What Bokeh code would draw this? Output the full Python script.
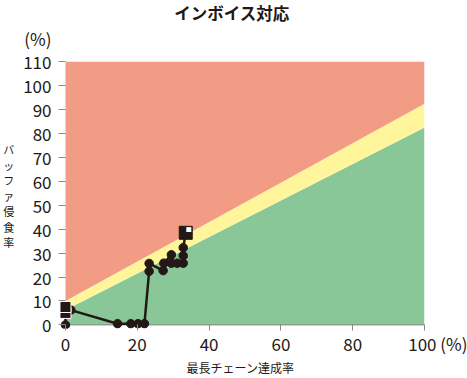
from bokeh.plotting import figure
from bokeh.models import Range1d, FixedTicker
from bokeh.embed import file_html
from bokeh.resources import INLINE
from bokeh.core.properties import value

# ---- data ----
title_text = "インボイス対応"
x_title = "最長チェーン達成率"
y_title = "バッファ侵食率"
unit_text = "(%)"

x_ticks = [0, 20, 40, 60, 80, 100]
y_ticks = [0, 10, 20, 30, 40, 50, 60, 70, 80, 90, 100, 110]

zone_x = [0, 100]
green_top = [6.2, 82.5]
yellow_top = [10.0, 92.4]
zone_max = [110, 110]
zone_min = [0, 0]

path_x = [0, 0, 0, 1.5, 14.5, 18.2, 20.2, 22.0, 23.3, 23.3, 27.2, 27.4, 29.5, 29.5, 31.1, 32.8, 32.8, 32.8, 33.5]
path_y = [0, 5.0, 7.5, 6.2, 0.5, 0.5, 0.5, 0.5, 22.4, 25.7, 22.7, 25.8, 29.3, 25.8, 25.8, 25.8, 28.9, 32.3, 38.5]
kinds = ["c", "s", "s", "c", "c", "c", "c", "c", "c", "c", "c", "c", "c", "c", "c", "c", "c", "c", "e"]

FONT = "Noto Sans CJK JP"
RED = "#f29c86"
YELLOW = "#fff59b"
GREEN = "#89c799"
INK = "#231815"
GREY = "#8a8a8a"

# layout: zone top (110) at 62px, zone bottom (0) at 328px from the top of the canvas
Y_MAX = y_ticks[-1]
px_per_unit = (328.3 - 62) / Y_MAX
y_top = Y_MAX + 62 / px_per_unit
y_pad = 1.5

p = figure(width=467, height=378, output_backend="svg", toolbar_location=None, title=None,
           x_range=Range1d(-2.5, 100), y_range=Range1d(-y_pad, y_top),
           min_border_left=55, min_border_right=43, min_border_top=0,
           min_border_bottom=round(378 - (328.3 + y_pad * px_per_unit)))
p.outline_line_color = None
p.xgrid.visible = False
p.ygrid.visible = False

p.varea(x=zone_x, y1=zone_min, y2=green_top, fill_color=GREEN)
p.varea(x=zone_x, y1=green_top, y2=yellow_top, fill_color=YELLOW)
p.varea(x=zone_x, y1=yellow_top, y2=zone_max, fill_color=RED)
p.line(zone_x, zone_min, line_color=GREY, line_width=1)

p.line(path_x, path_y, line_color=INK, line_width=2.5)
cx = [x for x, k in zip(path_x, kinds) if k == "c"]
cy = [y for y, k in zip(path_y, kinds) if k == "c"]
sx = [x for x, k in zip(path_x, kinds) if k == "s"]
sy = [y for y, k in zip(path_y, kinds) if k == "s"]
ex = [x for x, k in zip(path_x, kinds) if k == "e"]
ey = [y for y, k in zip(path_y, kinds) if k == "e"]
p.scatter(cx, cy, marker="circle", size=8.5, fill_color=INK, line_color=INK)
p.scatter(sx, sy, marker="square", size=11, fill_color=INK, line_color="white", line_width=1)
p.scatter(ex, ey, marker="square", size=13, fill_color=INK, line_color=INK)
p.text(ex, ey, text=["■"], x_offset=3, y_offset=-3, text_color="white",
       text_font=value(FONT), text_font_size="6px", text_align="center", text_baseline="middle")

# chart title, drawn inside the (extended) frame above the plotting zone
p.text(x=[50], y=[Y_MAX], text=[title_text], x_offset=-13, y_offset=-49,
       text_font=value(FONT), text_font_size="16.5px", text_font_style="bold",
       text_color=INK, text_align="center", text_baseline="middle")

for ax in (p.xaxis[0], p.yaxis[0]):
    ax.major_label_text_font = FONT
    ax.major_label_text_font_size = "17px"
    ax.major_label_text_color = INK
    ax.minor_tick_line_color = None
    ax.major_tick_line_color = GREY
    ax.axis_line_color = None
    ax.axis_label_text_font = FONT
    ax.axis_label_text_font_style = "normal"
    ax.axis_label_text_color = INK

p.xaxis.ticker = FixedTicker(ticks=x_ticks)
p.yaxis.ticker = FixedTicker(ticks=y_ticks)

p.yaxis.major_tick_in = 9
p.yaxis.major_tick_out = -2
p.yaxis.major_label_standoff = 5
p.yaxis.major_label_text_line_height = 0.92
p.yaxis.major_label_overrides = {Y_MAX: unit_text + "\n" + str(Y_MAX) + "\n\u00a0"}
# vertical (stacked) axis title, pushed down to the middle of the plotting zone
p.yaxis.axis_label = "\n".join(["\u00a0"] * 4 + list(y_title))
p.yaxis.axis_label_orientation = "horizontal"
p.yaxis.axis_label_text_font_size = "11px"
p.yaxis.axis_label_text_line_height = 0.97
p.yaxis.axis_label_standoff = 6

p.xaxis.major_tick_in = 4
p.xaxis.major_tick_out = 2
p.xaxis.major_label_standoff = 0
p.xaxis.major_label_text_line_height = 0.8
p.xaxis.major_label_overrides = {x_ticks[-1]: "\u00a0" * 8 + str(x_ticks[-1]) + " " + unit_text}
p.xaxis.axis_label = x_title
p.xaxis.axis_label_text_font_size = "12px"
p.xaxis.axis_label_text_line_height = 0.8
p.xaxis.axis_label_standoff = 0

open("out.html", "w").write(file_html(p, INLINE))
